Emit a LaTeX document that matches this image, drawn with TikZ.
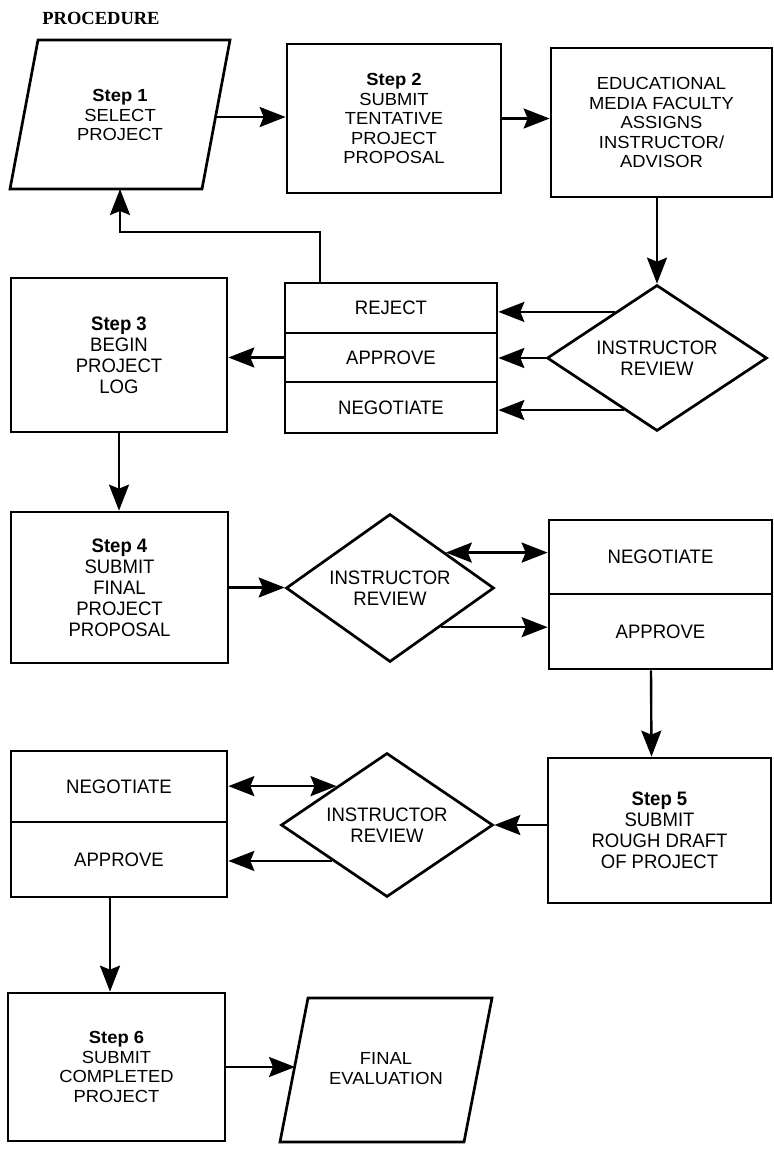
\documentclass[tikz,border=0pt]{standalone}
\usepackage{fontspec}
\setmainfont{Liberation Sans}
\newfontfamily\widef[FakeStretch=1.05]{Liberation Sans}
\newfontfamily\condf[FakeStretch=0.95]{Liberation Sans}
\newfontfamily\procf{Liberation Serif}
\usetikzlibrary{arrows.meta,shapes.geometric,calc}
\begin{document}
\begin{tikzpicture}[x=1pt,y=-1pt,
  wfont/.style={font=\widef\fontsize{17.5}{19.5}\selectfont},
  cfont/.style={font=\condf\fontsize{19.5}{21}\selectfont},
  box/.style={draw, rectangle, line width=2.7pt, inner sep=0pt, align=center},
  dia/.style={draw, diamond, aspect=1.5, line width=2.7pt, inner sep=0pt, align=center, cfont},
  ptext/.style={align=center, inner sep=0pt},
  outline/.style={line width=2.7pt, line join=miter},
  conn/.style={line width=2.4pt},
  arr/.style={conn, -{Stealth[length=26pt,width=20pt,inset=4pt]}},
  darr/.style={conn, {Stealth[length=26pt,width=20pt,inset=4pt]}-{Stealth[length=26pt,width=20pt,inset=4pt]}}
]
\useasboundingbox (0,0) rectangle (774,1149);

% title
\node[font=\procf\bfseries\fontsize{18.5}{20}\selectfont] (title) at (101,18) {PROCEDURE};

% Row 1
\node[ptext, wfont] (s1) at (120,115) {\textbf{Step 1}\\SELECT\\PROJECT};
\draw[outline] (38,40) -- (230,40) -- (202,189) -- (10,189) -- cycle;
\coordinate (s1e) at (216,117);
\coordinate (s1s) at (120,189);

\node[box, wfont, minimum width=214pt, minimum height=149pt] (s2) at (394,118.5)
  {\textbf{Step 2}\\SUBMIT\\TENTATIVE\\PROJECT\\PROPOSAL};
\node[box, wfont, minimum width=221pt, minimum height=149pt] (edu) at (661.5,122.5)
  {EDUCATIONAL\\MEDIA FACULTY\\ASSIGNS\\INSTRUCTOR/\\ADVISOR};

% Row 2
\node[dia, minimum width=220pt, minimum height=146pt] (d1) at (657,358) {INSTRUCTOR\\REVIEW};
\node[box, cfont, minimum width=212pt, minimum height=50pt] (rej) at (391,308) {REJECT};
\node[box, cfont, minimum width=212pt, minimum height=49pt] (app) at (391,357.5) {APPROVE};
\node[box, cfont, minimum width=212pt, minimum height=51pt] (neg) at (391,407.5) {NEGOTIATE};
\node[box, cfont, minimum width=216pt, minimum height=154pt] (s3) at (119,355)
  {\textbf{Step 3}\\BEGIN\\PROJECT\\LOG};

% Row 3
\node[box, cfont, minimum width=217pt, minimum height=151pt] (s4) at (119.5,587.5)
  {\textbf{Step 4}\\SUBMIT\\FINAL\\PROJECT\\PROPOSAL};
\node[dia, minimum width=208pt, minimum height=148pt] (d2) at (390,588) {INSTRUCTOR\\REVIEW};
\node[box, cfont, minimum width=223pt, minimum height=74pt] (neg2) at (660.5,557) {NEGOTIATE};
\node[box, cfont, minimum width=223pt, minimum height=75pt] (app2) at (660.5,631.5) {APPROVE};

% Row 4
\node[box, cfont, minimum width=216pt, minimum height=71pt] (neg3) at (119,786.5) {NEGOTIATE};
\node[box, cfont, minimum width=216pt, minimum height=75pt] (app3) at (119,859.5) {APPROVE};
\node[dia, minimum width=212pt, minimum height=144pt] (d3) at (387,825) {INSTRUCTOR\\REVIEW};
\node[box, cfont, minimum width=223pt, minimum height=145pt] (s5) at (659.5,830.5)
  {\textbf{Step 5}\\SUBMIT\\ROUGH DRAFT\\OF PROJECT};

% Row 5
\node[box, wfont, minimum width=217pt, minimum height=148pt] (s6) at (116.5,1067)
  {\textbf{Step 6}\\SUBMIT\\COMPLETED\\PROJECT};
\node[ptext, wfont] (fe) at (386,1068.5) {FINAL\\EVALUATION};
\draw[outline] (308,998) -- (492,998) -- (464,1142) -- (280,1142) -- cycle;
\coordinate (fewest) at (295,1066);

% connectors
\draw[arr] (s1e) -- (s1e -| s2.west);
\draw[arr] (s2.east) -- (s2.east -| edu.west);
\draw[arr] (d1.north |- edu.south) -- (d1.north);

\coordinate (d1r) at ($(d1.west)!0.62!(d1.north)$);
\coordinate (d1n) at ($(d1.west)!0.70!(d1.south)$);
\draw[arr] (d1r) -- (d1r -| rej.east);
\draw[arr] (d1.west) -- (d1.west -| app.east);
\draw[arr] (d1n) -- (d1n -| neg.east);
\draw[arr] (app.west) -- (app.west -| s3.east);

\coordinate (r1) at (320,232);
\coordinate (r2) at (120,232);
\draw[arr] (rej.north -| r1) -- (r1) -- (r2) -- (s1s);

\draw[arr] (s3.south) -- (s3.south |- s4.north);
\draw[arr] (s4.east) -- (s4.east -| d2.west);

\coordinate (d2n) at ($(d2.east)!0.47!(d2.north)$);
\coordinate (d2a) at ($(d2.east)!0.52!(d2.south)$);
\draw[darr] (d2n) -- (d2n -| neg2.west);
\draw[arr] (d2a) -- (d2a -| app2.west);

\draw[arr] ([xshift=-9.5pt]app2.south) -- ([xshift=-8pt]s5.north);
\draw[arr] (d3.east -| s5.west) -- (d3.east);

\coordinate (d3n) at ($(d3.west)!0.53!(d3.north)$);
\coordinate (d3a) at ($(d3.west)!0.49!(d3.south)$);
\draw[darr] (d3n) -- (d3n -| neg3.east);
\draw[arr] (d3a) -- (d3a -| app3.east);

\draw[arr] ([xshift=-9pt]app3.south) -- ([xshift=-6.5pt]s6.north);
\draw[arr] (s6.east) -- (s6.east -| fewest);
\end{tikzpicture}
\end{document}
